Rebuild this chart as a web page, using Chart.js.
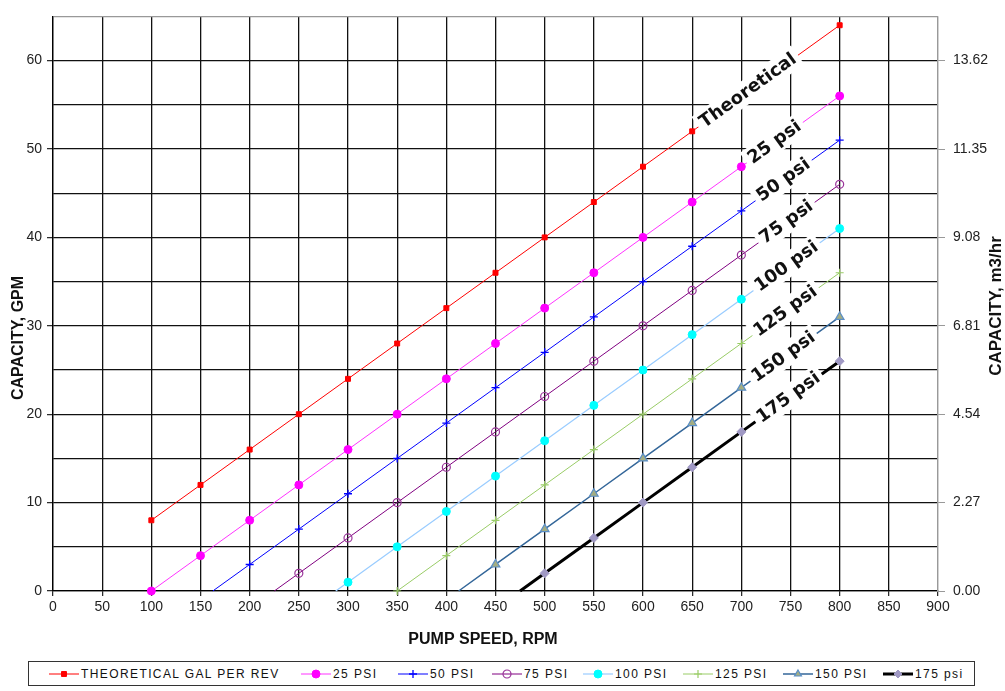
<!DOCTYPE html>
<html>
<head>
<meta charset="utf-8">
<script src="https://cdn.jsdelivr.net/npm/chart.js@4.4.1/dist/chart.umd.min.js"></script>
<style>
  html, body { margin: 0; padding: 0; background: #fff; }
  #wrap { position: relative; width: 1005px; height: 691px; overflow: hidden; }
  #c { position: absolute; left: 0; top: 0; }
  #legend { position: absolute; left: 28px; top: 661px; width: 947px; height: 25px;
            border: 1px solid #333; box-sizing: border-box; background: #fff; }
  .item { position: absolute; top: 0; height: 23px; display: flex; align-items: center;
          font-family: "Liberation Sans", Arial, sans-serif; font-size: 12px;
          letter-spacing: 1.4px; color: #111; white-space: nowrap; }
  .item canvas { margin-right: 2px; }
</style>
</head>
<body>
<div id="wrap">
  <canvas id="c" width="1005" height="691"></canvas>
  <div id="legend"></div>
</div>
<script>
// ---------------- DATA ----------------
const seriesNames = ['THEORETICAL GAL PER REV', '25 PSI', '50 PSI', '75 PSI', '100 PSI', '125 PSI', '150 PSI', '175 psi'];
const lineLabels  = ['Theoretical', '25 psi', '50 psi', '75 psi', '100 psi', '125 psi', '150 psi', '175 psi'];

const rpmTheoretical = [100, 150, 200, 250, 300, 350, 400, 450, 500, 550, 600, 650, 700, 750, 800];
const gpmTheoretical = [8, 12, 16, 20, 24, 28, 32, 36, 40, 44, 48, 52, 56, 60, 64];

const rpm25 = [100, 150, 200, 250, 300, 350, 400, 450, 500, 550, 600, 650, 700, 750, 800];
const gpm25 = [0, 4, 8, 12, 16, 20, 24, 28, 32, 36, 40, 44, 48, 52, 56];

const rpm50 = [162.5, 200, 250, 300, 350, 400, 450, 500, 550, 600, 650, 700, 750, 800];
const gpm50 = [0, 3, 7, 11, 15, 19, 23, 27, 31, 35, 39, 43, 47, 51];

const rpm75 = [225, 250, 300, 350, 400, 450, 500, 550, 600, 650, 700, 750, 800];
const gpm75 = [0, 2, 6, 10, 14, 18, 22, 26, 30, 34, 38, 42, 46];

const rpm100 = [287.5, 300, 350, 400, 450, 500, 550, 600, 650, 700, 750, 800];
const gpm100 = [0, 1, 5, 9, 13, 17, 21, 25, 29, 33, 37, 41];

const rpm125 = [350, 400, 450, 500, 550, 600, 650, 700, 750, 800];
const gpm125 = [0, 4, 8, 12, 16, 20, 24, 28, 32, 36];

const rpm150 = [412.5, 450, 500, 550, 600, 650, 700, 750, 800];
const gpm150 = [0, 3, 7, 11, 15, 19, 23, 27, 31];

const rpm175 = [475, 500, 550, 600, 650, 700, 750, 800];
const gpm175 = [0, 2, 6, 10, 14, 18, 22, 26];

const rightTickLabels = ['0.00', '2.27', '4.54', '6.81', '9.08', '11.35', '13.62'];

const xTitle = 'PUMP SPEED, RPM';
const yTitle = 'CAPACITY, GPM';
const y2Title = 'CAPACITY, m3/hr';

// ---------------- STYLE ----------------
const allRpm = [rpmTheoretical, rpm25, rpm50, rpm75, rpm100, rpm125, rpm150, rpm175];
const allGpm = [gpmTheoretical, gpm25, gpm50, gpm75, gpm100, gpm125, gpm150, gpm175];
const lineColors   = ['#ff0000', '#ff33ff', '#0000ff', '#800080', '#99ccff', '#99cc66', '#336699', '#000000'];
const lineWidths   = [1, 1, 1, 1, 1.2, 1, 1.5, 3];
const pointStyles  = ['rect', 'circle', 'cross', 'circle', 'circle', 'cross', 'triangle', 'rectRot'];
const pointRadii   = [3.5, 4, 4, 4, 4, 4, 5, 4.5];
const pointFills   = ['#ff0000', '#ff00ff', '#0000ff', 'rgba(0,0,0,0)', '#00ffff', '#99cc66', '#a3ad83', '#a099c4'];
const pointBorders = ['#ff0000', '#ff00ff', '#0000ff', '#993399', '#00ffff', '#99cc66', '#5a8ec6', '#a099c4'];
const pointBorderW = [1, 1, 1.3, 1.2, 1, 1.2, 1.2, 1];
const labelRpm     = [707, 734, 743, 746, 746, 745, 743, 748];
const legendLeft   = [20, 272, 369, 463, 554, 654, 754, 854];

const tickFont = { family: "'Liberation Sans', Arial, sans-serif", size: 14 };
const gridCol = '#111';

const datasets = allRpm.map((xs, k) => ({
  label: seriesNames[k],
  data: xs.map((x, i) => ({ x: x, y: allGpm[k][i] })),
  borderColor: lineColors[k],
  borderWidth: lineWidths[k],
  backgroundColor: pointFills[k],
  pointStyle: pointStyles[k],
  pointRadius: ctx => (ctx.raw && ctx.raw.x % 50 !== 0) ? 0 : pointRadii[k],
  pointBackgroundColor: pointFills[k],
  pointBorderColor: pointBorders[k],
  pointBorderWidth: pointBorderW[k],
  pointHoverRadius: 0,
  tension: 0,
  fill: false,
  clip: false,
  yAxisID: 'y'
}));

function interp(xs, ys, r) {
  for (let i = 0; i < xs.length - 1; i++) {
    if (r >= xs[i] && r <= xs[i + 1]) {
      return ys[i] + (ys[i + 1] - ys[i]) * (r - xs[i]) / (xs[i + 1] - xs[i]);
    }
  }
  return ys[ys.length - 1];
}

const overlay = {
  id: 'overlay',
  afterDatasetsDraw(chart) {
    const ctx = chart.ctx, xs = chart.scales.x, ys = chart.scales.y;
    ctx.save();
    ctx.font = 'bold 18px "DejaVu Sans", sans-serif';
    ctx.textAlign = 'center';
    ctx.textBaseline = 'middle';
    lineLabels.forEach((txt, k) => {
      const rx = allRpm[k], gy = allGpm[k];
      const n = rx.length;
      const ax = xs.getPixelForValue(rx[n - 2]), ay = ys.getPixelForValue(gy[n - 2]);
      const bx = xs.getPixelForValue(rx[n - 1]), by = ys.getPixelForValue(gy[n - 1]);
      const ang = Math.atan2(by - ay, bx - ax);
      const r = labelRpm[k];
      const cx = xs.getPixelForValue(r), cy = ys.getPixelForValue(interp(rx, gy, r));
      const w = ctx.measureText(txt).width;
      ctx.save();
      ctx.translate(cx, cy);
      ctx.rotate(ang);
      ctx.fillStyle = '#fff';
      ctx.fillRect(-w / 2 - 4, -12, w + 8, 23);
      ctx.fillStyle = '#111';
      ctx.fillText(txt, 0, 0);
      ctx.restore();
    });
    ctx.restore();
  },
  afterDraw(chart) {
    const ctx = chart.ctx;
    ctx.save();
    ctx.fillStyle = '#111';
    ctx.font = 'bold 16px "Liberation Sans", Arial, sans-serif';
    ctx.textAlign = 'center';
    ctx.textBaseline = 'middle';
    ctx.fillText(xTitle, 483, 640);
    ctx.save();
    ctx.translate(19, 338);
    ctx.rotate(-Math.PI / 2);
    ctx.fillText(yTitle, 0, 0);
    ctx.restore();
    ctx.save();
    ctx.translate(996, 306);
    ctx.rotate(-Math.PI / 2);
    ctx.font = 'bold 17px "Liberation Sans", Arial, sans-serif';
    ctx.fillText(y2Title, 0, 0);
    ctx.restore();
    ctx.restore();
  }
};

new Chart(document.getElementById('c'), {
  type: 'line',
  data: { datasets: datasets },
  plugins: [overlay],
  options: {
    responsive: false,
    animation: false,
    events: [],
    layout: { padding: { top: 5, left: 0, right: 0, bottom: 0 } },
    plugins: { legend: { display: false }, tooltip: { enabled: false }, title: { display: false } },
    scales: {
      x: {
        type: 'linear', min: 0, max: 900,
        ticks: { stepSize: 50, autoSkip: false, maxRotation: 0, font: tickFont, color: '#222', padding: 3 },
        grid: {
          color: c => (c.tick && c.tick.value === 900) ? '#999' : gridCol,
          lineWidth: 1.3, tickLength: 5, tickColor: '#222', tickWidth: 1.2
        },
        border: { color: '#000', width: 1.3 },
        afterFit: s => { s.height = 100; }
      },
      y: {
        type: 'linear', position: 'left', min: 0, max: 65,
        ticks: { stepSize: 5, autoSkip: false, font: tickFont, color: '#222', padding: 5,
                 callback: v => (v % 10 === 0) ? String(v) : '' },
        grid: {
          color: c => (c.tick && c.tick.value === 65) ? '#999' : gridCol,
          lineWidth: 1.3, tickLength: 6,
          tickColor: c => (c.tick && c.tick.value % 10 === 0) ? '#222' : 'rgba(0,0,0,0)',
          tickWidth: 1.2
        },
        border: { color: '#000', width: 1.3 },
        afterFit: s => { s.width = 53; }
      },
      y2: {
        type: 'linear', position: 'right', min: 0, max: 65,
        ticks: { stepSize: 10, autoSkip: false, font: tickFont, color: '#222', padding: 8,
                 callback: v => (v % 10 === 0) ? rightTickLabels[v / 10] : '' },
        grid: {
          drawOnChartArea: false, tickLength: 7,
          tickColor: c => (c.tick && c.tick.value % 10 === 0) ? '#999' : 'rgba(0,0,0,0)',
          color: 'rgba(0,0,0,0)'
        },
        border: { color: '#999', width: 1.2 },
        afterFit: s => { s.width = 67; }
      }
    }
  }
});

// ---------------- LEGEND (HTML) ----------------
function drawMarker(ctx, style, x, y, r, fill, stroke, lw) {
  ctx.save();
  ctx.fillStyle = fill; ctx.strokeStyle = stroke; ctx.lineWidth = lw;
  ctx.beginPath();
  if (style === 'rect') {
    const s = r * Math.SQRT1_2;
    ctx.rect(x - s, y - s, 2 * s, 2 * s); ctx.fill(); ctx.stroke();
  } else if (style === 'circle') {
    ctx.arc(x, y, r, 0, Math.PI * 2); ctx.fill(); ctx.stroke();
  } else if (style === 'cross') {
    ctx.moveTo(x - r, y); ctx.lineTo(x + r, y); ctx.moveTo(x, y - r); ctx.lineTo(x, y + r); ctx.stroke();
  } else if (style === 'triangle') {
    ctx.moveTo(x, y - r); ctx.lineTo(x + r * 0.87, y + r * 0.5); ctx.lineTo(x - r * 0.87, y + r * 0.5);
    ctx.closePath(); ctx.fill(); ctx.stroke();
  } else if (style === 'rectRot') {
    ctx.moveTo(x, y - r); ctx.lineTo(x + r, y); ctx.lineTo(x, y + r); ctx.lineTo(x - r, y);
    ctx.closePath(); ctx.fill(); ctx.stroke();
  }
  ctx.restore();
}
const legend = document.getElementById('legend');
seriesNames.forEach((name, k) => {
  const item = document.createElement('div');
  item.className = 'item';
  item.style.left = legendLeft[k] + 'px';
  const cv = document.createElement('canvas');
  cv.width = 30; cv.height = 12;
  const g = cv.getContext('2d');
  g.strokeStyle = lineColors[k]; g.lineWidth = lineWidths[k];
  g.beginPath(); g.moveTo(0, 6); g.lineTo(30, 6); g.stroke();
  drawMarker(g, pointStyles[k], 15, 6, Math.min(pointRadii[k], 4), pointFills[k], pointBorders[k], pointBorderW[k]);
  item.appendChild(cv);
  const sp = document.createElement('span');
  sp.textContent = name;
  item.appendChild(sp);
  legend.appendChild(item);
});
</script>
</body>
</html>
